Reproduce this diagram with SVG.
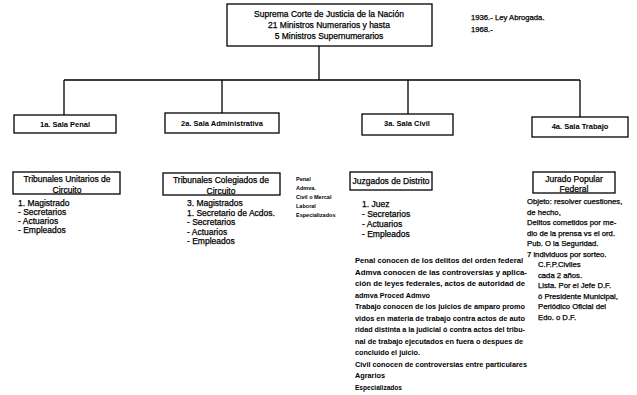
<svg xmlns="http://www.w3.org/2000/svg" width="637" height="395" viewBox="0 0 637 395">
<style>
text{font-family:"Liberation Sans",Arial,sans-serif;fill:#000;stroke:#000;stroke-width:0.25}
.box{fill:#fff;stroke:#000;stroke-width:1.3}
.ln{stroke:#000;stroke-width:1.3;fill:none}
.t1{font-size:8.5px}
.sala{font-size:7.5px;font-weight:bold;stroke-width:0}
.tb{font-size:8.5px}
.li{font-size:8.5px}
.sm{font-size:5.5px;font-weight:bold;stroke-width:0}
.p{font-size:6.3px;font-weight:bold;stroke-width:0}
.j{font-size:7.7px}
.c{text-anchor:middle}
</style>
<rect width="637" height="395" fill="#fff"/>
<g id="connectors">
<path class="ln" d="M319 46V80M64 80H580M64 80V115M222 80V113M408 80V114M580 80V117"/>
</g>
<g id="suprema">
<rect class="box" x="227" y="4" width="205" height="42"/>
<text class="t1 c" x="329" y="17">Suprema Corte de Justicia de la Nación</text>
<text class="t1 c" x="329" y="28">21 Ministros Numerarios y hasta</text>
<text class="t1 c" x="329" y="39">5 Ministros Supernumerarios</text>
</g>
<g id="notes">
<text class="j" x="471" y="20">1936.- Ley Abrogada.</text>
<text class="j" x="471" y="32">1968.-</text>
</g>
<g id="sala1">
<rect class="box" x="14" y="115" width="102" height="18"/>
<text class="sala c" x="65" y="127">1a. Sala Penal</text>
</g>
<g id="sala2">
<rect class="box" x="165" y="113" width="114" height="20"/>
<text class="sala c" x="222" y="126">2a. Sala Administrativa</text>
</g>
<g id="sala3">
<rect class="box" x="362" y="114" width="91" height="21"/>
<text class="sala c" x="407" y="126">3a. Sala Civil</text>
</g>
<g id="sala4">
<rect class="box" x="532" y="117" width="96" height="20"/>
<text class="sala c" x="580" y="129">4a. Sala Trabajo</text>
</g>
<g id="unitarios">
<rect class="box" x="13" y="172" width="107" height="22"/>
<text class="tb c" x="67" y="182">Tribunales Unitarios de</text>
<text class="tb c" x="67" y="193">Circuito</text>
<text class="li" x="18" y="206">1. Magistrado</text>
<text class="li" x="18" y="215">- Secretarios</text>
<text class="li" x="18" y="224">- Actuarios</text>
<text class="li" x="18" y="233">- Empleados</text>
</g>
<g id="colegiados">
<rect class="box" x="163" y="173" width="117" height="22"/>
<text class="tb c" x="221" y="183">Tribunales Colegiados de</text>
<text class="tb c" x="221" y="194">Circuito</text>
<text class="li" x="187" y="206">3. Magistrados</text>
<text class="li" x="187" y="215.5">1. Secretario de Acdos.</text>
<text class="li" x="187" y="225">- Secretarios</text>
<text class="li" x="187" y="234.5">- Actuarios</text>
<text class="li" x="187" y="244">- Empleados</text>
</g>
<g id="materias">
<text class="sm" x="296" y="181">Penal</text>
<text class="sm" x="296" y="190">Admva.</text>
<text class="sm" x="296" y="199">Civil o Mercal</text>
<text class="sm" x="296" y="208">Laboral</text>
<text class="sm" x="296" y="217">Especializados</text>
</g>
<g id="juzgados">
<rect class="box" x="350" y="172" width="82" height="18"/>
<text class="tb c" x="391" y="184">Juzgados de Distrito</text>
<text class="li" x="362" y="207">1. Juez</text>
<text class="li" x="362" y="217">- Secretarios</text>
<text class="li" x="362" y="227">- Actuarios</text>
<text class="li" x="362" y="237">- Empleados</text>
</g>
<g id="competencias">
<text class="p" x="355" y="263" textLength="168" lengthAdjust="spacingAndGlyphs">Penal  conocen de los delitos del orden federal</text>
<text class="p" x="355" y="274.5" textLength="172" lengthAdjust="spacingAndGlyphs">Admva conocen de las controversias y aplica-</text>
<text class="p" x="355" y="286" textLength="170" lengthAdjust="spacingAndGlyphs">ción de leyes federales, actos de autoridad de</text>
<text class="p" x="355" y="297.5" textLength="75" lengthAdjust="spacingAndGlyphs">admva  Proced  Admvo</text>
<text class="p" x="355" y="309" textLength="170" lengthAdjust="spacingAndGlyphs">Trabajo  conocen de los juicios de amparo promo</text>
<text class="p" x="355" y="320.5" textLength="170" lengthAdjust="spacingAndGlyphs">vidos en materia de trabajo contra actos de auto</text>
<text class="p" x="355" y="332" textLength="170" lengthAdjust="spacingAndGlyphs">ridad distinta a la judicial ó contra actos del tribu-</text>
<text class="p" x="355" y="343.5" textLength="168" lengthAdjust="spacingAndGlyphs">nal de trabajo ejecutados en fuera o despues de</text>
<text class="p" x="355" y="355" textLength="65" lengthAdjust="spacingAndGlyphs">concluido el juicio.</text>
<text class="p" x="355" y="366.5" textLength="172" lengthAdjust="spacingAndGlyphs">Civil  conocen de controversias entre particulares</text>
<text class="p" x="355" y="378" textLength="30" lengthAdjust="spacingAndGlyphs">Agrarios</text>
<text class="p" x="355" y="389.5" textLength="47" lengthAdjust="spacingAndGlyphs">Especializados</text>
</g>
<g id="jurado">
<rect class="box" x="533" y="172" width="82" height="21"/>
<text class="tb c" x="574" y="182">Jurado Popular</text>
<text class="tb c" x="574" y="192">Federal</text>
<text class="j" x="527" y="204">Objeto: resolver cuestiones,</text>
<text class="j" x="527" y="214.5">de hecho,</text>
<text class="j" x="527" y="225">Delitos cometidos por me-</text>
<text class="j" x="527" y="235.5">dio de la prensa vs el ord.</text>
<text class="j" x="527" y="246">Pub. O la Seguridad.</text>
<text class="j" x="527" y="256.5">7 individuos por sorteo.</text>
<text class="j" x="538" y="267">C.F.P.Civiles</text>
<text class="j" x="538" y="277.5">cada 2 años.</text>
<text class="j" x="538" y="288">Lista. Por el Jefe D.F.</text>
<text class="j" x="538" y="298.5">ó Presidente Municipal,</text>
<text class="j" x="538" y="309">Periódico Oficial del</text>
<text class="j" x="538" y="319.5">Edo. o D.F.</text>
</g>
</svg>
